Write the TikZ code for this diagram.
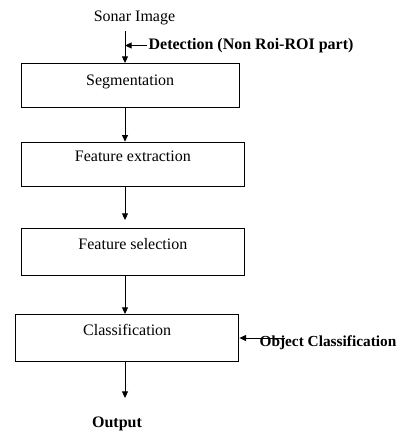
\documentclass[tikz,border=0pt]{standalone}
\usepackage{fontspec}
\setmainfont{Liberation Serif}
\usetikzlibrary{arrows.meta,positioning}

\begin{document}
\begin{tikzpicture}[x=0.75pt, y=-0.75pt,
    font=\fontsize{12}{14}\selectfont,
    flow/.style={-{Triangle[length=5pt,width=4.5pt]}, line width=0.75pt},
    stage/.style={draw, line width=0.8pt, inner sep=0pt, minimum width=#1,
      text height=14.6pt, text depth=18.4pt, anchor=north west},
    note/.style={font=\fontsize{12}{14}\selectfont\bfseries, inner sep=1pt}]
  \useasboundingbox (0,0) rectangle (401,432);
  \node (IN) at (134.5,18) {Sonar Image};
  \coordinate (AXIS) at (125,31);
  \node[stage=163.5pt, text height=16.5pt, text depth=16.5pt] (SEG) at (20.7,63) {Segmentation};
  \node[stage=167.5pt] (FE) at (20.7,141.7) {Feature extraction};
  \node[stage=167.5pt, minimum height=35.25pt] (FS) at (20.7,228) {Feature selection};
  \node[stage=167.5pt, minimum height=35.25pt] (CLS) at (15,314) {Classification};
  \node[note, anchor=west] (DET) at (147,45.5) {Detection (Non Roi-ROI part)};
  \node[note, anchor=west, font=\fontsize{11.5}{14}\selectfont\bfseries] (OBJ) at (258,343) {Object Classification};
  \node[note] (OUT) at (117,424) {Output};
  \coordinate (OBJTAIL) at (285,338);
  \coordinate (OUTTIP) at (125,398);

  \draw[flow] (AXIS) -- (SEG.north -| AXIS);
  \draw[flow] (DET.west) -- (AXIS |- DET.west);
  \draw[flow] (SEG.south -| AXIS) -- (FE.north -| AXIS);
  \draw[flow, shorten >=6pt] (FE.south -| AXIS) -- (FS.north -| AXIS);
  \draw[flow] (FS.south -| AXIS) -- (CLS.north -| AXIS);
  \draw[flow] (OBJTAIL) -- (CLS.east |- OBJTAIL);
  \draw[flow] (CLS.south -| AXIS) -- (OUTTIP);
\end{tikzpicture}
\end{document}
